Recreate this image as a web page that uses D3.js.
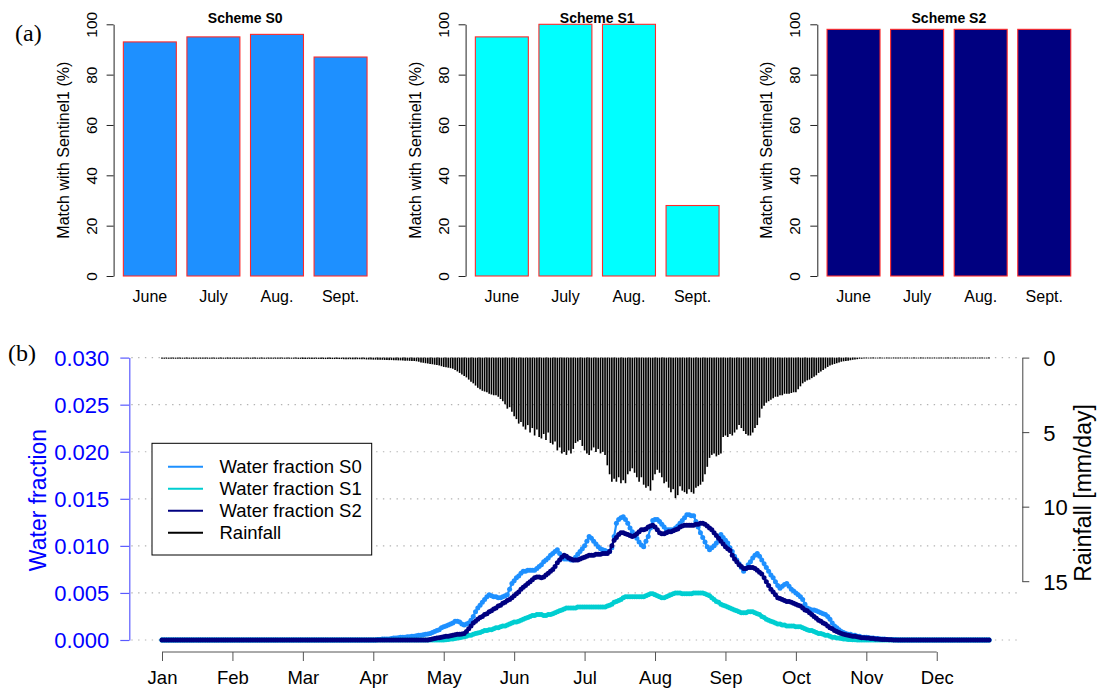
<!DOCTYPE html>
<html><head><meta charset="utf-8">
<script src="https://cdn.jsdelivr.net/npm/d3@7"></script>
<style>
body{margin:0;background:#fff}
text{font-family:"Liberation Sans",Arial,Helvetica,sans-serif}
</style>
</head><body>
<svg id="chart" width="1098" height="690"></svg>
<script>
// ---------------- DATA ----------------
const barMonths = ["June","July","Aug.","Sept."];
const schemeTitles = ["Scheme S0","Scheme S1","Scheme S2"];
const matchS0 = [93,95,96,87];
const matchS1 = [95,100,100,28];
const matchS2 = [98,98,98,98];
const pctTicks = [0,20,40,60,80,100];

const monthLabels = ["Jan","Feb","Mar","Apr","May","Jun","Jul","Aug","Sep","Oct","Nov","Dec"];
const monthTickDays = [1,32,63,94,125,156,187,218,249,280,311,342];
const wfTicks = [0,0.005,0.010,0.015,0.020,0.025,0.030];
const rainTicks = [0,5,10,15];
const legendLabels = ["Water fraction S0","Water fraction S1","Water fraction S2","Rainfall"];

// daily rainfall (mm/day), day 1..365
const rainfall = [
0.05,0.05,0.05,0.05,0.05,0.05,0.05,0.05,0.05,0.05,
0.05,0.05,0.05,0.05,0.05,0.05,0.05,0.05,0.05,0.05,
0.05,0.05,0.05,0.05,0.05,0.05,0.05,0.05,0.05,0.05,
0.05,0.05,0.05,0.05,0.05,0.05,0.05,0.05,0.05,0.05,
0.05,0.05,0.05,0.05,0.05,0.05,0.05,0.05,0.05,0.05,
0.05,0.05,0.05,0.05,0.05,0.05,0.05,0.05,0.05,0.05,
0.06,0.06,0.06,0.06,0.06,0.06,0.06,0.06,0.06,0.06,
0.07,0.07,0.07,0.07,0.07,0.07,0.07,0.07,0.07,0.07,
0.08,0.08,0.08,0.08,0.08,0.08,0.08,0.08,0.08,0.08,
0.1,0.1,0.1,0.11,0.11,0.12,0.12,0.12,0.13,0.13,
0.14,0.14,0.15,0.15,0.16,0.16,0.17,0.18,0.18,0.19,
0.2,0.2,0.22,0.25,0.3,0.32,0.35,0.37,0.4,0.42,
0.45,0.47,0.5,0.55,0.6,0.62,0.65,0.68,0.72,0.8,
0.9,1.0,1.1,1.2,1.3,1.45,1.6,1.7,1.85,2.0,
2.1,2.2,2.25,2.3,2.4,2.45,2.5,2.5,2.6,2.75,
2.9,3.1,3.4,3.3,3.6,3.9,4.1,4.4,4.3,4.6,
4.8,4.5,5.0,4.7,5.2,4.8,5.3,5.4,5.1,5.5,
5.0,5.7,5.8,5.6,6.2,6.0,6.4,6.3,6.5,6.2,
6.4,6.1,5.7,5.6,5.5,5.9,6.2,6.4,6.5,6.2,
6.0,6.3,6.1,6.4,6.3,6.5,7.2,7.8,8.3,8.1,
8.3,8.0,8.4,8.2,8.4,7.8,7.6,7.4,7.7,8.0,
8.3,8.0,8.5,8.7,8.6,8.9,8.2,7.8,7.5,7.7,
8.0,8.4,8.3,8.7,9.0,8.8,9.4,9.2,8.6,8.9,
9.0,9.1,8.8,9.0,9.1,8.7,8.6,8.5,8.3,7.8,
7.3,6.7,6.5,6.4,6.6,6.5,6.4,5.3,5.2,5.3,
5.1,5.2,5.0,4.8,4.5,4.7,4.9,5.1,5.2,5.2,
5.0,4.7,4.5,4.0,3.4,3.2,3.0,2.9,2.8,2.7,
2.6,2.6,2.5,2.5,2.4,2.4,2.4,2.35,2.3,2.3,
2.1,1.9,1.7,1.6,1.5,1.45,1.35,1.25,1.16,1.0,
0.9,0.8,0.7,0.6,0.5,0.45,0.4,0.35,0.3,0.25,
0.22,0.2,0.18,0.15,0.12,0.1,0.08,0.05,0.05,0.04,
0.03,0.03,0.03,0.03,0.03,0.03,0.03,0.03,0.03,0.03,
0.03,0.03,0.03,0.03,0.03,0.03,0.03,0.03,0.03,0.03,
0.03,0.03,0.03,0.03,0.03,0.03,0.03,0.03,0.03,0.03,
0.03,0.03,0.03,0.03,0.03,0.03,0.03,0.03,0.03,0.03,
0.03,0.03,0.03,0.03,0.03,0.03,0.03,0.03,0.03,0.03,
0.03,0.03,0.03,0.03,0.03
];

// daily water fraction, scheme S0
const waterS0 = [
0,0,0,0,0,0,0,0,0,0, 0,0,0,0,0,0,0,0,0,0, 0,0,0,0,0,0,0,0,0,0,
0,0,0,0,0,0,0,0,0,0, 0,0,0,0,0,0,0,0,0,0, 0,0,0,0,0,0,0,0,0,0,
0,0,0,0,0,0,0,0,0,0, 0,0,0,0,0,0,0,0,0,0, 0,0,0,0,0,0,0,0,0,0,
0,0,0,0,0,
0.00005,0.00005,0.0001,0.0001,0.0001,
0.0001,0.00015,0.0002,0.0002,0.00025,
0.0003,0.0003,0.0003,0.00035,0.00035,
0.0004,0.0004,0.00045,0.0005,0.0005,
0.00055,0.0006,0.00065,0.0007,0.0008,
0.0009,0.001,0.0011,0.0013,0.0014,
0.0015,0.0016,0.0017,0.0018,0.002,
0.002,0.0019,0.0017,0.0016,0.0017,
0.0018,0.0021,0.0025,0.003,0.0034,
0.0037,0.004,0.0043,0.0046,0.0048,
0.0047,0.0046,0.0046,0.0045,0.0045,
0.0046,0.0047,0.0048,0.0054,0.006,
0.0063,0.0066,0.0068,0.0071,0.0073,
0.0073,0.0074,0.0074,0.0074,0.0074,
0.0076,0.0078,0.008,0.0083,0.0085,
0.0087,0.009,0.0092,0.0094,0.0096,
0.0092,0.0087,0.0086,0.0086,0.0086,
0.0085,0.0085,0.0088,0.0091,0.0094,
0.0097,0.01,0.0105,0.011,0.0108,
0.0105,0.0102,0.0099,0.0097,0.0096,
0.0095,0.0094,0.0094,0.0098,0.011,
0.0124,0.0128,0.013,0.0131,0.0128,
0.0124,0.0119,0.0115,0.0111,0.0108,
0.0104,0.0101,0.0099,0.0105,0.011,
0.0119,0.0127,0.0128,0.0128,0.0126,
0.0123,0.012,0.0117,0.0117,0.0117,
0.0117,0.0119,0.0121,0.0124,0.0127,
0.013,0.0133,0.0133,0.0132,0.0132,
0.0126,0.012,0.0114,0.0109,0.0104,
0.0099,0.0096,0.0098,0.01,0.0103,
0.0108,0.0112,0.0109,0.0106,0.0103,
0.0098,0.0094,0.0089,0.0085,0.0081,
0.0077,0.0073,0.0076,0.008,0.0083,
0.0087,0.009,0.0092,0.0089,0.0085,
0.0081,0.0077,0.0073,0.0069,0.0066,
0.0062,0.0058,0.0055,0.0057,0.0059,
0.006,0.0057,0.0054,0.0052,0.005,
0.0048,0.0046,0.0043,0.0038,0.0034,
0.0033,0.0032,0.0032,0.0031,0.003,
0.0029,0.0028,0.0027,0.0025,0.0022,
0.0018,0.0015,0.0013,0.0011,0.0009,
0.0008,0.0007,0.0006,0.0006,0.0005,
0.0005,0.0004,0.0004,0.0003,0.0003,
0.0003,0.00025,0.0002,0.0002,0.00015,
0.00015,0.0001,0.0001,0.0001,0.00005,
0.00005,0.00005,0.00003,0.00002,0.00001,
0,0,0,0,0,0,0,0,0,0, 0,0,0,0,0,0,0,0,0,0,
0,0,0,0,0,0,0,0,0,0, 0,0,0,0,0,0,0,0,0,0
];

// daily water fraction, scheme S1
const waterS1 = [
0,0,0,0,0,0,0,0,0,0, 0,0,0,0,0,0,0,0,0,0, 0,0,0,0,0,0,0,0,0,0,
0,0,0,0,0,0,0,0,0,0, 0,0,0,0,0,0,0,0,0,0, 0,0,0,0,0,0,0,0,0,0,
0,0,0,0,0,0,0,0,0,0, 0,0,0,0,0,0,0,0,0,0, 0,0,0,0,0,0,0,0,0,0,
0,0,0,0,0,0,0,0,0,0, 0,0,0,0,0,0,0,0,0,0, 0,0,0,0,0,0,0,0,0,0,
0,0,0,0,0,
0.00003,0.00005,0.0001,0.0001,0.00015,
0.0002,0.00025,0.0003,0.00035,0.0004,
0.0005,0.0005,0.0006,0.0007,0.00075,
0.0008,0.0009,0.001,0.001,0.0011,
0.0011,0.0012,0.0013,0.0013,0.0014,
0.0015,0.0015,0.0016,0.0017,0.0018,
0.0019,0.0019,0.002,0.0021,0.0022,
0.0023,0.0024,0.0025,0.0026,0.0026,
0.0027,0.0027,0.0027,0.0026,0.0026,
0.0027,0.0027,0.0028,0.0029,0.003,
0.0031,0.0032,0.0033,0.0034,0.0034,
0.0034,0.0034,0.0034,0.0035,0.0035,
0.0035,0.0035,0.0035,0.0035,0.0035,
0.0035,0.0035,0.0035,0.0035,0.0035,
0.0035,0.0036,0.0037,0.0038,0.004,
0.0041,0.0042,0.0043,0.0045,0.0046,
0.0046,0.0046,0.0046,0.0046,0.0046,
0.0046,0.0046,0.0046,0.0047,0.0048,
0.0049,0.0049,0.0048,0.0047,0.0046,
0.0045,0.0045,0.0046,0.0047,0.0048,
0.0049,0.005,0.005,0.005,0.0049,
0.0049,0.0049,0.0049,0.0049,0.005,
0.005,0.005,0.005,0.005,0.0049,
0.0048,0.0047,0.0045,0.0043,0.0041,
0.004,0.0038,0.0037,0.0036,0.0035,
0.0034,0.0033,0.0032,0.0031,0.003,
0.0029,0.0029,0.0029,0.003,0.003,
0.003,0.0029,0.0028,0.0027,0.0025,
0.0024,0.0022,0.0021,0.002,0.0019,
0.0018,0.0017,0.0017,0.0016,0.0016,
0.0015,0.0015,0.0015,0.0015,0.0014,
0.0014,0.0014,0.0013,0.0012,0.0011,
0.001,0.001,0.0009,0.0008,0.0007,
0.0007,0.0006,0.0005,0.0005,0.0004,
0.0003,0.0003,0.0002,0.0002,0.00015,
0.0001,0.0001,0.00005,0.00005,0.00003,
0.00002,0.00001,0.00001,0,0,
0,0,0,0,0,0,0,0,0,0, 0,0,0,0,0,0,0,0,0,0,
0,0,0,0,0,0,0,0,0,0, 0,0,0,0,0,0,0,0,0,0,
0,0,0,0,0,0,0,0,0,0, 0,0,0,0,0
];

// daily water fraction, scheme S2
const waterS2 = [
0,0,0,0,0,0,0,0,0,0, 0,0,0,0,0,0,0,0,0,0, 0,0,0,0,0,0,0,0,0,0,
0,0,0,0,0,0,0,0,0,0, 0,0,0,0,0,0,0,0,0,0, 0,0,0,0,0,0,0,0,0,0,
0,0,0,0,0,0,0,0,0,0, 0,0,0,0,0,0,0,0,0,0, 0,0,0,0,0,0,0,0,0,0,
0,0,0,0,0,0,0,0,0,0, 0,0,0,0,0,0,0,0,0,0,
0,0,0,0,0,0,0,0,
0.00005,0.0001,
0.00015,0.0002,0.00025,0.0003,0.00035,
0.0004,0.0004,0.00045,0.0005,0.00055,
0.0006,0.0006,0.00065,0.0007,0.0009,
0.0012,0.0015,0.0018,0.002,0.0022,
0.0024,0.0025,0.0027,0.0028,0.003,
0.0031,0.0033,0.0034,0.0036,0.0037,
0.0039,0.004,0.0042,0.0043,0.0045,
0.0047,0.0049,0.0051,0.0054,0.0056,
0.0058,0.006,0.0062,0.0064,0.0066,
0.0067,0.0067,0.0066,0.0067,0.0069,
0.0071,0.0073,0.0075,0.0078,0.0082,
0.0085,0.0088,0.009,0.0089,0.0087,
0.0086,0.0085,0.0085,0.0085,0.0086,
0.0087,0.0088,0.0089,0.009,0.009,
0.009,0.0091,0.0091,0.0091,0.0092,
0.0092,0.0092,0.0094,0.01,0.0106,
0.0109,0.0112,0.0114,0.0114,0.0113,
0.0112,0.0111,0.011,0.0111,0.0113,
0.0115,0.0117,0.0117,0.0118,0.012,
0.0121,0.0122,0.012,0.0117,0.0114,
0.0113,0.0113,0.0114,0.0115,0.0115,
0.0116,0.0117,0.0118,0.012,0.0121,
0.0122,0.0122,0.0122,0.0122,0.0122,
0.0123,0.0123,0.0124,0.0124,0.0123,
0.0121,0.0119,0.0117,0.0114,0.0111,
0.0108,0.0105,0.0102,0.0099,0.0097,
0.0095,0.009,0.0086,0.0083,0.008,
0.0078,0.0076,0.0076,0.0077,0.0077,
0.0077,0.0076,0.0074,0.0072,0.007,
0.0066,0.0062,0.0058,0.0054,0.0051,
0.0048,0.0045,0.0044,0.0043,0.0042,
0.0041,0.0041,0.004,0.0039,0.0038,
0.0037,0.0036,0.0034,0.0032,0.0031,
0.0029,0.0027,0.0025,0.0023,0.0021,
0.002,0.0018,0.0017,0.0015,0.0013,
0.0012,0.001,0.0009,0.0008,0.0007,
0.0006,0.00055,0.0005,0.00045,0.0004,
0.0004,0.00035,0.0003,0.00025,0.00025,
0.0002,0.0002,0.00015,0.00015,0.0001,
0.0001,0.00008,0.00006,0.00005,0.00004,
0.00003,0.00002,0.00001,0.00001,0,
0,0,0,0,0,0,0,0,0,0, 0,0,0,0,0,0,0,0,0,0,
0,0,0,0,0,0,0,0,0,0, 0,0,0,0,0,0,0,0,0,0
];

[["rainfall",rainfall],["waterS0",waterS0],["waterS1",waterS1],["waterS2",waterS2]].forEach(([n,a])=>{
  if (a.length !== 365) throw new Error(n + " has length " + a.length);
});

// ---------------- DRAW ----------------
const svg = d3.select("#chart");
svg.append("rect").attr("width",1098).attr("height",690).attr("fill","#fff");

// panel labels
svg.append("text").attr("x",15).attr("y",41).text("(a)")
  .style("font-family","'Liberation Serif','Times New Roman',serif").style("font-size","24px");
svg.append("text").attr("x",8).attr("y",361).text("(b)")
  .style("font-family","'Liberation Serif','Times New Roman',serif").style("font-size","24px");

// ---- (a) bar panels ----
const panelLefts = [113.6, 465.6, 817.3];
const panelWidth = 263.2;
const barSeries = [matchS0, matchS1, matchS2];
const barFills = ["#1E90FF","#00FFFF","#000080"];
const yPct = d3.scaleLinear().domain([0,100]).range([276,24.3]);

barSeries.forEach((vals, p) => {
  const left = panelLefts[p];
  const xb = d3.scaleLinear().domain([0.016, 4.984]).range([left, left + panelWidth]);
  const g = svg.append("g");
  g.selectAll("rect.bar").data(vals).enter().append("rect")
    .attr("class","bar")
    .attr("x",(d,i)=>xb(0.2 + 1.2*i))
    .attr("width",(d,i)=>xb(1.2 + 1.2*i) - xb(0.2 + 1.2*i))
    .attr("y",d=>yPct(d))
    .attr("height",d=>yPct(0)-yPct(d))
    .attr("fill",barFills[p])
    .attr("stroke","#ff2a2a").attr("stroke-width",1.1);
  g.selectAll("text.xl").data(barMonths).enter().append("text")
    .attr("class","xl")
    .attr("x",(d,i)=>xb(0.7 + 1.2*i)).attr("y",301.5)
    .attr("text-anchor","middle").style("font-size","16px").text(d=>d);
  // y axis
  const ax = g.append("g").attr("transform",`translate(${left},0)`)
    .call(d3.axisLeft(yPct).tickValues(pctTicks).tickSize(7).tickSizeOuter(0));
  ax.select(".domain").attr("stroke","#222");
  ax.selectAll(".tick line").attr("stroke","#222");
  ax.selectAll(".tick text")
    .attr("transform","rotate(-90)").attr("x",0).attr("y",-17).attr("dy",null)
    .attr("text-anchor","middle").attr("fill","#000")
    .style("font-size","15.5px").style("font-family","'Liberation Sans',Arial,sans-serif");
  g.append("text")
    .attr("transform",`translate(${left-45},${(yPct(0)+yPct(100))/2}) rotate(-90)`)
    .attr("text-anchor","middle").style("font-size","16px")
    .text("Match with Sentinel1 (%)");
  g.append("text").attr("x",left + panelWidth/2).attr("y",22.5)
    .attr("text-anchor","middle").style("font-size","14px").style("font-weight","bold")
    .text(schemeTitles[p]);
});

// ---- (b) time series panel ----
const x = d3.scaleLinear().domain([1,365]).range([162,989]);
const yWF = d3.scaleLinear().domain([0,0.03]).range([640,357.6]);
const yRain = d3.scaleLinear().domain([0,15]).range([357.6,581.2]);
const plotL = 129.3, plotR = 1022.3;

// grid
svg.append("g").selectAll("line").data(wfTicks).enter().append("line")
  .attr("x1",plotL+2).attr("x2",plotR-2)
  .attr("y1",d=>yWF(d)).attr("y2",d=>yWF(d))
  .attr("stroke","#b3b3b3").attr("stroke-width",1.2).attr("stroke-dasharray","1.4,5.4");

// rainfall bars
svg.append("g").selectAll("line").data(rainfall).enter().append("line")
  .attr("x1",(d,i)=>x(i+1)).attr("x2",(d,i)=>x(i+1))
  .attr("y1",yRain(0)).attr("y2",d=>yRain(d) + 0.4)
  .attr("stroke","#000").attr("stroke-width",1.65);

// water fraction series
const wfSeries = [
  {vals: waterS0, color: "#1E90FF"},
  {vals: waterS1, color: "#00CED1"},
  {vals: waterS2, color: "#000080"}
];
const lineGen = d3.line().x((d,i)=>x(i+1)).y(d=>yWF(d));
wfSeries.forEach(s => {
  const g = svg.append("g");
  g.append("path").datum(s.vals).attr("d",lineGen)
    .attr("fill","none").attr("stroke",s.color).attr("stroke-width",2.2);
  g.selectAll("circle").data(s.vals).enter().append("circle")
    .attr("cx",(d,i)=>x(i+1)).attr("cy",d=>yWF(d)).attr("r",2.5)
    .attr("fill",s.color);
});

// legend
const legColors = ["#1E90FF","#00CED1","#000080","#000000"];
const lg = svg.append("g");
lg.append("rect").attr("x",152).attr("y",443.3).attr("width",219.7).attr("height",111.7)
  .attr("fill","#fff").attr("stroke","#000").attr("stroke-width",1);
const legRows = [466.7, 488.7, 510.7, 532.7];
lg.selectAll("line").data(legendLabels).enter().append("line")
  .attr("x1",168).attr("x2",203).attr("y1",(d,i)=>legRows[i]).attr("y2",(d,i)=>legRows[i])
  .attr("stroke",(d,i)=>legColors[i]).attr("stroke-width",2);
lg.selectAll("text").data(legendLabels).enter().append("text")
  .attr("x",219.5).attr("y",(d,i)=>legRows[i]+6.6)
  .style("font-size","18.5px").text(d=>d);

// left axis
const axL = svg.append("g").attr("transform",`translate(${plotL},0)`)
  .call(d3.axisLeft(yWF).tickValues(wfTicks).tickFormat(d3.format(".3f")).tickSize(9).tickSizeOuter(0).tickPadding(11));
axL.select(".domain").attr("stroke","#5a5aff").attr("stroke-width",1.2);
axL.selectAll(".tick line").attr("stroke","#5a5aff").attr("stroke-width",1.2);
axL.selectAll(".tick text").attr("fill","#0000ff").attr("dy","0.36em")
  .style("font-size","22px").style("font-family","'Liberation Sans',Arial,sans-serif");
svg.append("text").attr("transform",`translate(46,500) rotate(-90)`)
  .attr("text-anchor","middle").attr("fill","#0000ff").style("font-size","23px")
  .text("Water fraction");

// right axis
const axR = svg.append("g").attr("transform",`translate(${plotR},0)`)
  .call(d3.axisRight(yRain).tickValues(rainTicks).tickSize(7).tickSizeOuter(0).tickPadding(14));
axR.select(".domain").attr("stroke","#444");
axR.selectAll(".tick line").attr("stroke","#444");
axR.selectAll(".tick text").attr("fill","#000").attr("dy","0.36em")
  .style("font-size","22px").style("font-family","'Liberation Sans',Arial,sans-serif");
svg.append("text").attr("transform",`translate(1091,493) rotate(-90)`)
  .attr("text-anchor","middle").style("font-size","23px")
  .text("Rainfall [mm/day]");

// bottom axis
const axB = svg.append("g").attr("transform","translate(0,652)")
  .call(d3.axisBottom(x).tickValues(monthTickDays).tickFormat((d,i)=>monthLabels[i]).tickSize(9).tickSizeOuter(0).tickPadding(10));
axB.select(".domain").remove();
axB.append("line").attr("x1",x(monthTickDays[0])).attr("x2",x(monthTickDays[monthTickDays.length-1]))
  .attr("y1",0).attr("y2",0).attr("stroke","#555");
axB.selectAll(".tick line").attr("stroke","#555");
axB.selectAll(".tick text").attr("fill","#000")
  .style("font-size","18.5px").style("font-family","'Liberation Sans',Arial,sans-serif");
</script>
</body></html>
